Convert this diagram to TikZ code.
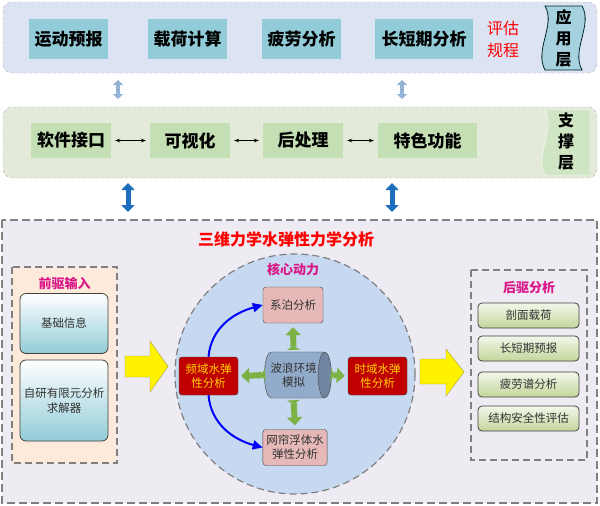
\documentclass[tikz,border=0pt]{standalone}
\usepackage{fontspec}
\setmainfont{Noto Sans CJK SC}
\usetikzlibrary{arrows.meta}
\usetikzlibrary{calc}
\usetikzlibrary{shapes.geometric}
\definecolor{toppanel}{RGB}{220,227,242}
\definecolor{topbox}{RGB}{146,204,216}
\definecolor{scrollblue}{RGB}{165,210,222}
\definecolor{midpanel}{RGB}{227,234,217}
\definecolor{midbox}{RGB}{196,223,180}
\definecolor{lowpanel}{RGB}{238,235,243}
\definecolor{peach}{RGB}{253,234,218}
\definecolor{corefill}{RGB}{198,217,240}
\definecolor{pinkbox}{RGB}{230,185,184}
\definecolor{darkred}{RGB}{192,0,0}
\definecolor{gold}{RGB}{255,210,0}
\definecolor{lightarrow}{RGB}{149,179,215}
\definecolor{darkarrow}{RGB}{31,110,190}
\definecolor{leafgreen}{RGB}{146,208,80}
\definecolor{olive}{RGB}{195,214,155}
\colorlet{gridlines}{gray!60}
\tikzset{
    layerbox/.style={minimum height=40pt, fill=topbox, font=\fontsize{17}{20}\selectfont\bfseries},
    supbox/.style={minimum height=35pt, fill=midbox, font=\fontsize{17}{20}\selectfont\bfseries},
    inbox/.style={draw=black!75, thick, rounded corners=6pt, top color=white, bottom color=topbox,
        minimum width=88pt, text=black!80, align=center, font=\fontsize{11.5}{15}\selectfont},
    outbox/.style={draw=black!75, thick, rounded corners=4pt, top color=white!80!olive, bottom color=olive,
        minimum width=101pt, minimum height=25pt, text=black!80, font=\fontsize{11.5}{13}\selectfont},
    corebox/.style={draw=black!75, rounded corners=3pt, fill=pinkbox, minimum width=60pt,
        minimum height=36pt, align=center, text=black!80, font=\fontsize{11.5}{14}\selectfont},
    hydrobox/.style={draw=black!75, rounded corners=3pt, fill=darkred, minimum width=59pt,
        minimum height=38pt, align=center, text=gold, font=\fontsize{11.5}{14}\selectfont},
    heading/.style={text=magenta!80!violet, font=\fontsize{13}{15}\selectfont\bfseries},
    greenarrow/.style={leafgreen!85!black, line width=6pt, {Triangle[reversed,width=13pt,length=4pt]}-{Triangle[width=15pt,length=8pt]}},
    yellowarrow/.style={fill=yellow, draw=yellow!60!black}
}

\begin{document}
\begin{tikzpicture}[x=1pt,y=-1pt]
        % bounding box
        \useasboundingbox (0,0) rectangle (600,506);
        % application layer
        \draw[gridlines][dashed][rounded corners=9pt][fill=toppanel] (3,2) rectangle (597,73);
        \node[layerbox][minimum width=79pt] (yd) at (68.5,39) {运动预报};
        \node[layerbox][minimum width=79pt] (zh) at (187.5,39) {载荷计算};
        \node[layerbox][minimum width=79pt] (pl) at (301.5,39) {疲劳分析};
        \node[layerbox][minimum width=98pt] (cdq) at (424,39) {长短期分析};
        \node[align=center][text=red][font=\fontsize{16}{22}\selectfont] (gc) at (503,39) {评估\\规程};
        \draw[fill=scrollblue][draw=black!70!teal][thick] (545,6) .. controls (556,25) and (534,50) .. (545,70)
            -- (582,70) .. controls (571,50) and (593,25) .. (582,6) -- cycle;
        \node[align=center][font=\fontsize{16}{21}\selectfont\bfseries] (yyc) at (563.5,38) {应\\用\\层};
        % support layer
        \draw[gridlines][dashed][rounded corners=9pt][fill=midpanel] (3,107) rectangle (597,178);
        \node[supbox][minimum width=80pt] (rj) at (71,140.5) {软件接口};
        \node[supbox][minimum width=80pt] (ksh) at (190,140.5) {可视化};
        \node[supbox][minimum width=80pt] (hcl) at (303,140.5) {后处理};
        \node[supbox][minimum width=99pt] (ts) at (427.5,140.5) {特色功能};
        \draw[fill=midbox!80!white][draw=white] (545,110) .. controls (556,130) and (534,155) .. (545,175)
            -- (590,175) -- (590,110) -- cycle;
        \node[align=center][font=\fontsize{16}{21}\selectfont\bfseries] (zcc) at (566,142) {支\\撑\\层};
        \foreach \a/\b in {rj/ksh,ksh/hcl,hcl/ts}
        {
            \draw[{Stealth[length=5pt]}-{Stealth[length=5pt]}][thick] ($(\a.east)+(4,0)$) -- ($(\b.west)-(4,0)$);
        }
        % layer links
        \coordinate (u1) at (118,80);
        \coordinate (u2) at (118,99);
        \coordinate (u3) at (402,80);
        \coordinate (u4) at (402,99);
        \coordinate (d1) at (128,183);
        \coordinate (d2) at (128,212);
        \coordinate (d3) at (392,183);
        \coordinate (d4) at (392,212);
        \draw[{Triangle[width=10pt,length=5pt]}-{Triangle[width=10pt,length=5pt]}][lightarrow][line width=4pt] (u1) -- (u2);
        \draw[{Triangle[width=10pt,length=5pt]}-{Triangle[width=10pt,length=5pt]}][lightarrow][line width=4pt] (u3) -- (u4);
        \draw[{Triangle[width=13pt,length=7pt]}-{Triangle[width=13pt,length=7pt]}][darkarrow][line width=5pt] (d1) -- (d2);
        \draw[{Triangle[width=13pt,length=7pt]}-{Triangle[width=13pt,length=7pt]}][darkarrow][line width=5pt] (d3) -- (d4);
        % analysis layer
        \draw[gray][dashed][line width=1.5pt][dash pattern=on 8pt off 4pt][fill=lowpanel] (2,220) rectangle (597,503);
        \node[text=red][font=\fontsize{16}{19}\selectfont\bfseries] (title) at (286,239) {三维力学水弹性力学分析};
        % input
        \draw[gray][line width=1.2pt][dash pattern=on 7pt off 4pt][fill=peach] (12,267) rectangle (117,463);
        \node[heading] (qq) at (64.5,283) {前驱输入};
        \node[inbox][minimum height=60pt] (jc) at (64,323.5) {基础信息};
        \node[inbox][minimum height=81pt] (zy) at (64,400.5) {自研有限元分析\\求解器};
        % core
        \draw[gray][line width=1.2pt][dash pattern=on 7pt off 4pt][fill=corefill] (295,374) circle (120);
        \node[heading] (hx) at (293,270) {核心动力};
        \node[corebox] (moor) at (293,305) {系泊分析};
        \node[cylinder][draw=black!75][shape aspect=0.5][minimum width=46pt][minimum height=67pt][inner sep=1pt]
            [cylinder uses custom fill][cylinder body fill=lightarrow!85!gray][cylinder end fill=lightarrow!75!black]
            [align=center][text=black!80][font=\fontsize{11.5}{14}\selectfont] (wave) at (293.5,375) {波浪环境\\模拟};
        \node[hydrobox] (pinyu) at (208.5,376) {频域水弹\\性分析};
        \node[hydrobox] (shiyu) at (377.5,376) {时域水弹\\性分析};
        \node[corebox][minimum width=62pt] (net) at (295,447.5) {网帘浮体水\\弹性分析};
        \draw[greenarrow] ($(wave.north)+(0,-2)$) -- ($(moor.south)+(0,4)$);
        \draw[greenarrow] ($(wave.south)+(0,2)$) -- ($(net.north)+(0,-4)$);
        \draw[greenarrow] ($(wave.west)+(1,0)$) -- ($(pinyu.east)+(3,0)$);
        \draw[greenarrow] ($(wave.east)+(-1,0)$) -- ($(shiyu.west)+(-3,0)$);
        \draw[-{Triangle[width=9pt,length=10pt]}][blue][line width=2pt] (pinyu.north) to[out=85,in=195] (moor.west);
        \draw[-{Triangle[width=9pt,length=10pt]}][blue][line width=2pt] (pinyu.south) to[out=-85,in=165] (net.west);
        % output
        \draw[gray][line width=1.2pt][dash pattern=on 7pt off 4pt] (471,270) rectangle (587,460);
        \node[heading] (hq) at (529,288) {后驱分析};
        \node[outbox] (pm) at (528.5,315.5) {剖面载荷};
        \node[outbox] (cd) at (528.5,348.5) {长短期预报};
        \node[outbox] (plp) at (528.5,384.5) {疲劳谱分析};
        \node[outbox] (jg) at (528.5,418.5) {结构安全性评估};
        % flow arrows
        \draw[yellowarrow] (125,356) -- (150,356) -- (150,341) -- (168,366.5) -- (150,392) -- (150,377) -- (125,377) -- cycle;
        \draw[yellowarrow] (420,359) -- (446,359) -- (446,349) -- (464,372) -- (446,396) -- (446,384) -- (420,384) -- cycle;
    \end{tikzpicture}
\end{document}
